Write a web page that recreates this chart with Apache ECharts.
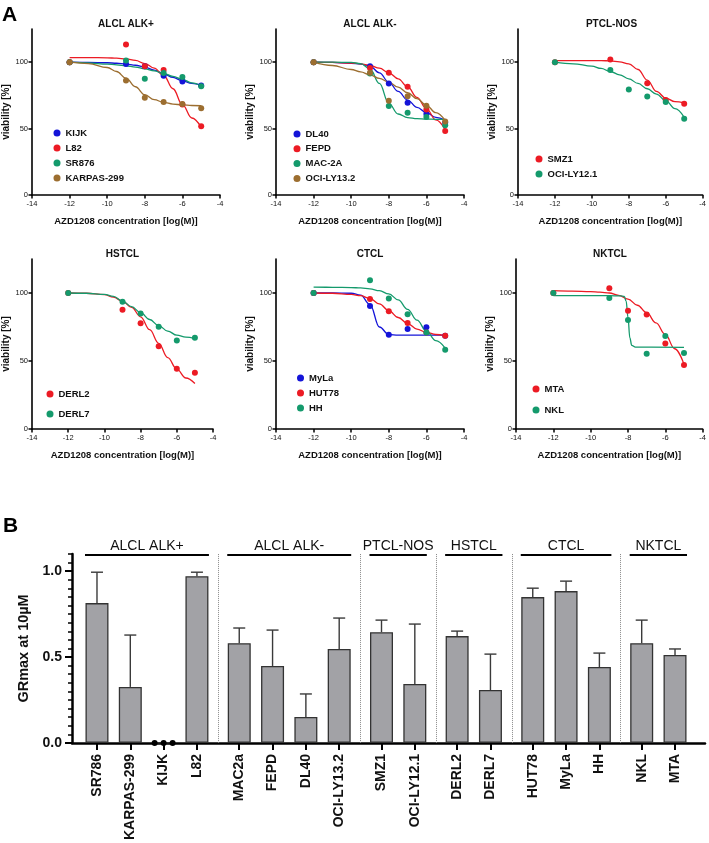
<!DOCTYPE html>
<html>
<head>
<meta charset="utf-8">
<script src="https://cdn.jsdelivr.net/npm/echarts@6/dist/echarts.min.js"></script>
<style>
  html, body { margin: 0; padding: 0; background: #fff; }
  #chart { width: 709px; height: 843px; }
</style>
</head>
<body>
<div id="chart"></div>
<script>
// ---- A: viability [%] vs log concentration ----
const pointConc = [-12, -9, -8, -7, -6, -5];
const fitConc = [-12, -11, -10, -9.5, -9, -8.5, -8, -7.5, -7, -6.5, -6, -5.5, -5];
const nklFitConc = [-12, -9, -8.4, -8.2, -8.1, -8, -7.9, -7.8, -7.6, -5];

const panelTitles = ['ALCL ALK+', 'ALCL ALK-', 'PTCL-NOS', 'HSTCL', 'CTCL', 'NKTCL'];

// ALCL ALK+
const kijkPts = [100, 98.7, 97, 89.8, 85.5, 82.5];
const l82Pts = [100, 113.3, 97, 94.2, 68.2, 51.8];
const sr876Pts = [100, 101.2, 87.5, 91.8, 88.8, 81.8];
const karpasPts = [100, 86.3, 73.3, 70, 68.5, 65.3];
const kijkFit = [100, 99.9, 99.6, 99.2, 98.6, 97.7, 96.3, 94.1, 91.3, 88.5, 86, 84.1, 82.8];
const l82Fit = [103.5, 103.5, 103.3, 103, 102.5, 101.3, 99, 95.5, 90, 80, 68, 58, 51];
const sr876Fit = [100, 99.4, 98.6, 98, 97.3, 96.3, 95, 93.4, 91.5, 89.3, 87, 84.5, 82];
const karpasFit = [100, 99, 96, 93, 88, 81.5, 75.5, 71.8, 69.8, 68.5, 67.8, 67.4, 67.2];

// ALCL ALK-
const dl40Pts = [100, 97, 84, 69.5, 61, 54.5];
const fepdPts = [100, 95.7, 92, 81.5, 64.3, 48.2];
const mac2aPts = [100, 91.5, 67, 62, 58.8, 52.5];
const ociLy132Pts = [100, 92, 71, 74.4, 67.3, 55.3];
const dl40Fit = [100, 99.8, 99.2, 98.5, 97, 92, 85, 78, 71.5, 66, 62, 58.5, 56.5];
const fepdFit = [100, 99.8, 99.4, 98.8, 97.5, 95.5, 92, 87.5, 81.5, 73.5, 65, 56.5, 49];
const mac2aFit = [100, 100, 99.8, 99, 95, 84, 69, 61, 58.3, 57.5, 57.2, 57, 57];
const ociLy132Fit = [100, 97.5, 94.5, 92.7, 90.5, 87.8, 85, 81.2, 77, 72.5, 67.5, 62, 56];

// PTCL-NOS
const smz1Pts = [100, 102, null, 84.2, 71.6, 68.8];
const ociLy121Pts = [100, 94.2, 79.4, 74.1, 70.1, 57.5];
const smz1Fit = [101.2, 101.2, 101.2, 101.2, 101, 100.3, 98.8, 94.5, 86.5, 78, 73, 70.3, 69.3];
const ociLy121Fit = [100, 98.8, 97, 95.3, 93, 90.5, 87.5, 84, 80, 76, 71, 65, 58.5];

// HSTCL
const derl2Pts = [100, 87.6, 77.7, 60.9, 44.3, 41.3];
const derl7Pts = [100, 93.6, 84.9, 75.2, 65.1, 67.1];
const derl2Fit = [100, 99.8, 98.8, 97, 94, 89.5, 82.5, 73, 63, 52.5, 44, 37.5, 33.5];
const derl7Fit = [100, 99.8, 99, 97.5, 94, 90, 85.5, 80.5, 76, 72, 69, 67.5, 66.5];

// CTCL
const mylaPts = [100, 90.5, 69.3, 73.5, 74.8, 68.5];
const hut78Pts = [100, 95.5, 86.5, 78, 71, 68.5];
const hhPts = [100, 109.3, 96, 84.3, 71, 58.3];
const mylaFit = [100, 100, 99.8, 98.5, 91.5, 75, 69.5, 69, 69, 69, 69, 69, 69];
const hut78Fit = [100, 99.8, 99, 98, 96, 92, 87, 82, 77.5, 73.5, 71, 69.5, 68.5];
const hhFit = [104.3, 104.2, 104, 103.7, 103, 101.7, 99.3, 95, 88, 80, 72, 65, 59.5];

// NKTCL
const mtaPts = [100, 103.5, 86.9, 84.2, 62.9, 47];
const nklPts = [100, 96.3, 80.2, 55.4, 68.3, 55.9];
const mtaFit = [101.7, 101.4, 101, 100.6, 100, 98.3, 95.5, 91, 85.5, 78, 69.5, 59, 47.5];
const nklFit = [98, 98, 97.9, 97.5, 94, 82, 67, 61.5, 60.2, 60];

// ---- B: GRmax at 10 µM ----
const groupNames = ['ALCL ALK+', 'ALCL ALK-', 'PTCL-NOS', 'HSTCL', 'CTCL', 'NKTCL'];
const barLines = ['SR786', 'KARPAS-299', 'KIJK', 'L82', 'MAC2a', 'FEPD', 'DL40', 'OCI-LY13.2',
  'SMZ1', 'OCI-LY12.1', 'DERL2', 'DERL7', 'HUT78', 'MyLa', 'HH', 'NKL', 'MTA'];
const barGroups = [0, 0, 0, 0, 1, 1, 1, 1, 2, 2, 3, 3, 4, 4, 4, 5, 5];
const grMaxMean = [0.814, 0.326, 0, 0.971, 0.581, 0.448, 0.151, 0.547, 0.645, 0.343, 0.622, 0.308,
  0.849, 0.884, 0.442, 0.581, 0.512];
const grMaxSd = [0.18, 0.302, 0, 0.023, 0.088, 0.209, 0.134, 0.18, 0.07, 0.349, 0.029, 0.209,
  0.052, 0.058, 0.081, 0.134, 0.035];
const kijkReplicates = [0, 0, 0];

const COLORS = { blue: '#1414d8', red: '#ec1b24', green: '#149a6c', brown: '#9c6e30' };
const FONT = '"Liberation Sans", Arial, sans-serif';
const INK = '#111';

const panels = [
  [['KIJK', kijkPts, kijkFit, 'blue'], ['L82', l82Pts, l82Fit, 'red'],
   ['SR876', sr876Pts, sr876Fit, 'green'], ['KARPAS-299', karpasPts, karpasFit, 'brown']],
  [['DL40', dl40Pts, dl40Fit, 'blue'], ['FEPD', fepdPts, fepdFit, 'red'],
   ['MAC-2A', mac2aPts, mac2aFit, 'green'], ['OCI-LY13.2', ociLy132Pts, ociLy132Fit, 'brown']],
  [['SMZ1', smz1Pts, smz1Fit, 'red'], ['OCI-LY12.1', ociLy121Pts, ociLy121Fit, 'green']],
  [['DERL2', derl2Pts, derl2Fit, 'red'], ['DERL7', derl7Pts, derl7Fit, 'green']],
  [['MyLa', mylaPts, mylaFit, 'blue'], ['HUT78', hut78Pts, hut78Fit, 'red'], ['HH', hhPts, hhFit, 'green']],
  [['MTA', mtaPts, mtaFit, 'red'], ['NKL', nklPts, nklFit, 'green', nklFitConc]],
];

// layout of the six small plots
const GRIDS_A = [
  { left: 32, top: 29, width: 188, height: 166 },
  { left: 276, top: 29, width: 188, height: 166 },
  { left: 518, top: 29, width: 187, height: 166 },
  { left: 32, top: 259, width: 181, height: 170 },
  { left: 276, top: 259, width: 188, height: 170 },
  { left: 516, top: 259, width: 188, height: 170 },
];
const LEGENDS_A = [
  { left: 53.5, top: 127.5, gap: 4 },
  { left: 293.5, top: 128.5, gap: 3.8 },
  { left: 535.5, top: 153.5, gap: 4 },
  { left: 46.5, top: 388.5, gap: 9 },
  { left: 297, top: 372.5, gap: 4 },
  { left: 532.5, top: 383.5, gap: 10 },
];
const GRID_B = { left: 72, right: 4, top: 554, height: 189 };
const GROUP_GAP = 0.27;

const barPos = barGroups.map((g, i) => +(i + g * GROUP_GAP).toFixed(3));
const labelAt = new Map(barPos.map((p, i) => [p.toFixed(3), barLines[i]]));
const separators = [];
const headers = [];
groupNames.forEach((name, g) => {
  const idx = barGroups.map((v, i) => (v === g ? i : -1)).filter((i) => i >= 0);
  const first = barPos[idx[0]];
  const last = barPos[idx[idx.length - 1]];
  if (g > 0) separators.push({ xAxis: (barPos[idx[0] - 1] + first) / 2 });
  headers.push([{ name, coord: [first - 0.36, 1.093] }, { coord: [last + 0.36, 1.093] }]);
});

const grid = [];
const xAxis = [];
const yAxis = [];
const legend = [];
const series = [];
const title = [
  { text: 'A', left: 2, top: 5, padding: 0, textStyle: { fontSize: 21, fontWeight: 'bold', color: '#000', fontFamily: FONT } },
  { text: 'B', left: 3, top: 516, padding: 0, textStyle: { fontSize: 21, fontWeight: 'bold', color: '#000', fontFamily: FONT } },
];

panels.forEach((lines, p) => {
  const g = GRIDS_A[p];
  grid.push({ left: g.left, top: g.top, width: g.width, height: g.height });
  title.push({
    text: panelTitles[p],
    left: g.left + g.width / 2,
    top: g.top - 10,
    textAlign: 'center',
    padding: 0,
    textStyle: { fontSize: 10, fontWeight: 'bold', color: INK, fontFamily: FONT },
  });
  xAxis.push({
    type: 'value',
    gridIndex: p,
    min: -14,
    max: -4,
    interval: 2,
    name: 'AZD1208 concentration [log(M)]',
    nameLocation: 'middle',
    nameGap: 21,
    nameTextStyle: { fontSize: 9.5, fontWeight: 'bold', color: INK },
    axisLine: { onZero: false, lineStyle: { color: '#000', width: 1.6 } },
    axisTick: { length: 3.5, lineStyle: { width: 1.5 } },
    axisLabel: { fontSize: 7.5, color: INK, margin: 5 },
    splitLine: { show: false },
  });
  yAxis.push({
    type: 'value',
    gridIndex: p,
    min: 0,
    max: 125,
    name: 'viability [%]',
    nameLocation: 'middle',
    nameGap: 17,
    nameTextStyle: { fontSize: 10, fontWeight: 'bold', color: INK },
    axisLine: { show: true, onZero: false, lineStyle: { color: '#000', width: 1.6 } },
    axisTick: { show: true, length: 3.5, lineStyle: { width: 1.5 }, customValues: [0, 50, 100] },
    axisLabel: { fontSize: 7.5, color: INK, margin: 4, customValues: [0, 50, 100] },
    splitLine: { show: false },
  });
  const lg = LEGENDS_A[p];
  legend.push({
    data: lines.map((l) => l[0]),
    left: lg.left,
    top: lg.top,
    orient: 'vertical',
    padding: 0,
    icon: 'circle',
    itemWidth: 7,
    itemHeight: 7,
    itemGap: lg.gap,
    itemTextGap: 9,
    selectedMode: false,
    textStyle: { fontSize: 9.5, fontWeight: 'bold', color: INK, lineHeight: 11, fontFamily: FONT },
  });
  lines.forEach(([name, pts, fit, tone, fitX]) => {
    const color = COLORS[tone];
    const xs = fitX || fitConc;
    series.push({
      name,
      type: 'scatter',
      xAxisIndex: p,
      yAxisIndex: p,
      symbolSize: 6,
      itemStyle: { color, opacity: 1 },
      data: pointConc.map((c, k) => [c, pts[k]]).filter((d) => d[1] !== null),
      z: 3,
    });
    series.push({
      name,
      type: 'line',
      xAxisIndex: p,
      yAxisIndex: p,
      showSymbol: false,
      smooth: 0.4,
      smoothMonotone: 'x',
      lineStyle: { color, width: 1.3 },
      itemStyle: { color },
      data: xs.map((c, k) => [c, fit[k]]),
      z: 2,
    });
  });
});

// ---- bar chart grid ----
const B = GRID_B;
grid.push({ left: B.left, right: B.right, top: B.top, height: B.height });
xAxis.push({
  type: 'value',
  gridIndex: 6,
  min: -0.75,
  max: 18.25,
  axisLine: { onZero: false, lineStyle: { color: '#000', width: 2.5 } },
  axisTick: { show: true, length: 7, lineStyle: { width: 2, color: '#000' }, customValues: barPos },
  axisLabel: {
    customValues: barPos,
    formatter: (v) => labelAt.get(Number(v).toFixed(3)) || '',
    rotate: 90,
    margin: 11,
    fontSize: 14,
    fontWeight: 'bold',
    color: INK,
  },
  splitLine: { show: false },
});
yAxis.push({
  type: 'value',
  gridIndex: 6,
  position: 'left',
  offset: 0,
  min: 0,
  max: 1.1,
  interval: 0.5,
  name: 'GRmax at 10µM',
  nameLocation: 'middle',
  nameGap: 39,
  nameTextStyle: { fontSize: 14.5, fontWeight: 'bold', color: INK },
  axisLine: { show: true, onZero: false, lineStyle: { color: '#000', width: 2.5 } },
  axisTick: { show: true, length: 7, lineStyle: { width: 2, color: '#000' }, customValues: [0, 0.5, 1] },
  axisLabel: {
    customValues: [0, 0.5, 1],
    formatter: (v) => Number(v).toFixed(1),
    fontSize: 14,
    fontWeight: 'bold',
    color: INK,
    margin: 10,
  },
  splitLine: { show: false },
});
// minor ticks every 0.05 on the same side
yAxis.push({
  type: 'value',
  gridIndex: 6,
  position: 'left',
  offset: 0,
  min: 0,
  max: 1.1,
  interval: 0.05,
  axisLine: { show: false, onZero: false },
  axisTick: { show: true, length: 4, lineStyle: { width: 1.5, color: '#000' } },
  axisLabel: { show: false },
  splitLine: { show: false },
});

series.push({
  name: 'GRmax',
  type: 'bar',
  xAxisIndex: 6,
  yAxisIndex: 6,
  barWidth: 23,
  itemStyle: { color: '#a2a2a6', borderColor: '#333', borderWidth: 1.3 },
  data: barPos.map((x, i) => [x, grMaxMean[i]]),
  markLine: {
    silent: true,
    symbol: ['none', 'none'],
    label: { show: false },
    lineStyle: { color: '#8a8a8a', type: 'dotted', width: 1 },
    data: separators,
  },
});
series.push({
  name: 'SD',
  type: 'custom',
  xAxisIndex: 6,
  yAxisIndex: 6,
  encode: { x: 0, y: 1 },
  z: 4,
  data: barPos.map((x, i) => [x, grMaxMean[i], grMaxSd[i]]),
  renderItem: (params, api) => {
    const sd = api.value(2);
    if (!(sd > 0)) return null;
    const x = api.value(0);
    const m = api.value(1);
    const base = api.coord([x, m]);
    const top = api.coord([x, m + sd]);
    const style = { stroke: '#3a3a3a', lineWidth: 1.4 };
    return {
      type: 'group',
      children: [
        { type: 'line', shape: { x1: base[0], y1: base[1], x2: top[0], y2: top[1] }, style },
        { type: 'line', shape: { x1: top[0] - 6, y1: top[1], x2: top[0] + 6, y2: top[1] }, style },
      ],
    };
  },
});
const kijkPos = barPos[barLines.indexOf('KIJK')];
series.push({
  name: 'KIJK replicates',
  type: 'scatter',
  xAxisIndex: 6,
  yAxisIndex: 6,
  clip: false,
  symbolSize: 6,
  itemStyle: { color: '#000', opacity: 1 },
  z: 5,
  data: kijkReplicates.map((v, k) => [kijkPos + (k - 1) * GROUP_GAP, v]),
  markLine: {
    silent: true,
    symbol: ['none', 'none'],
    lineStyle: { color: '#000', type: 'solid', width: 2 },
    label: {
      show: true,
      position: 'insideMiddleTop',
      formatter: '{b}',
      distance: 2,
      fontSize: 14,
      color: INK,
      fontFamily: FONT,
    },
    data: headers,
  },
});

const chart = echarts.init(document.getElementById('chart'), null, { renderer: 'canvas' });
chart.setOption({
  animation: false,
  backgroundColor: '#fff',
  textStyle: { fontFamily: FONT },
  title,
  legend,
  grid,
  xAxis,
  yAxis,
  series,
});
</script>
</body>
</html>
